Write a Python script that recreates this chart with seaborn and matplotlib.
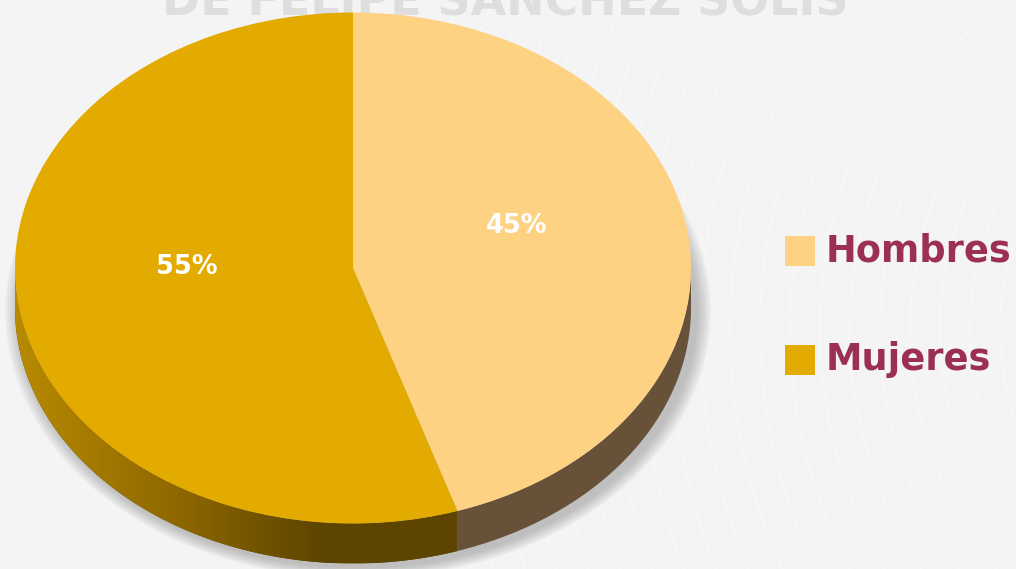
import numpy as np
import matplotlib
matplotlib.use("Agg")
import matplotlib.pyplot as plt
from matplotlib.patches import Polygon, Ellipse, Rectangle, Arc
from matplotlib.colors import LinearSegmentedColormap
import seaborn as sns

# data
labels = ["Hombres", "Mujeres"]
values = [45, 55]
top_colors = ["#FED283", "#E3AA00"]
title_text = "DE FELIPE SANCHEZ SOLIS"

sns.set_style("white")
plt.rcParams['font.family'] = ['DejaVu Sans']

W, H = 1016, 569
fig = plt.figure(figsize=(W / 100, H / 100), dpi=100)
fig.patch.set_facecolor("#F4F4F4")
ax = fig.add_axes([0, 0, 1, 1])

# pie geometry in pixels -> units of the ellipse
cx, cy, rx, ry = 353, 268, 338, 255.5
depth = 40 / ry


def ux(px):
    return (px - cx) / rx


def uy(py):
    return (cy - py) / ry


# faint background swirl lines
for r in np.arange(250, 900, 30):
    ax.add_patch(Arc((ux(1250), uy(330)), 2 * r / rx, 2 * r / ry * 1.05, theta1=110, theta2=250,
                     color="white", lw=1.4, alpha=0.3, zorder=0))

# soft shadow
for k in range(14):
    s = 1.0 + 0.045 * (14 - k) / 14
    ax.add_patch(Ellipse((0.015, -depth - 0.015), 2 * s, 2 * s, color="#7A7A7A",
                         alpha=0.035, lw=0, zorder=1))

# extruded side
def side_poly(a0, a1):
    t = np.radians(np.linspace(a0, a1, 200))
    top = np.column_stack([np.cos(t), np.sin(t)])
    bot = np.column_stack([np.cos(t[::-1]), np.sin(t[::-1]) - depth])
    return np.vstack([top, bot])

split = 90 - 360 * values[0] / sum(values)  # -72 deg
muj_side = Polygon(side_poly(180, 360 + split), closed=True, fc="#5E4500", ec="none", zorder=2)
hom_side = Polygon(side_poly(360 + split, 360), closed=True, fc="#675139", ec="none", zorder=2)
ax.add_patch(muj_side)
ax.add_patch(hom_side)

grad = LinearSegmentedColormap.from_list("side", [(0, "#B88A00"), (0.25, "#8C6600"),
                                                  (0.45, "#5E4500"), (1, "#5C4300")])
xs = np.linspace(0, 1, 300).reshape(1, -1)
im = ax.imshow(xs, cmap=grad, extent=(-1, 1, -1 - depth, 0), aspect="auto", zorder=2.5)
im.set_clip_path(muj_side)

# top face
wedges, texts, autotexts = ax.pie(values, colors=top_colors, startangle=90, counterclock=False,
                                  autopct="%1.0f%%", pctdistance=0.5,
                                  wedgeprops=dict(lw=0, zorder=3),
                                  textprops=dict(color="white", fontsize=18.5, fontweight="bold"))
for t in autotexts:
    t.set_zorder(4)
autotexts[0].set_position((ux(517), uy(226)))
autotexts[1].set_position((ux(187), uy(267)))
for w in wedges:
    w.set_zorder(3)

# title, cut off by the top edge as in the original slide
ax.text(ux(505), uy(15), title_text, ha="center", va="baseline", fontsize=33,
        fontweight="bold", color="#DEDEDE", zorder=1)

# legend
for i, lab in enumerate(labels):
    y0 = [236, 345][i]
    ax.add_patch(Rectangle((ux(785), uy(y0 + 30)), 30 / rx, 30 / ry, fc=top_colors[i], ec="none", zorder=4))
    ax.text(ux(826), uy(y0 + 15), lab, ha="left", va="center", fontsize=26.5, fontweight="bold",
            color="#9B3052", zorder=4)

ax.set_xlim(ux(0), ux(W))
ax.set_ylim(uy(H), uy(0))
ax.set_aspect("auto")
ax.axis("off")

fig.savefig("out.png", dpi=100, facecolor=fig.get_facecolor())
